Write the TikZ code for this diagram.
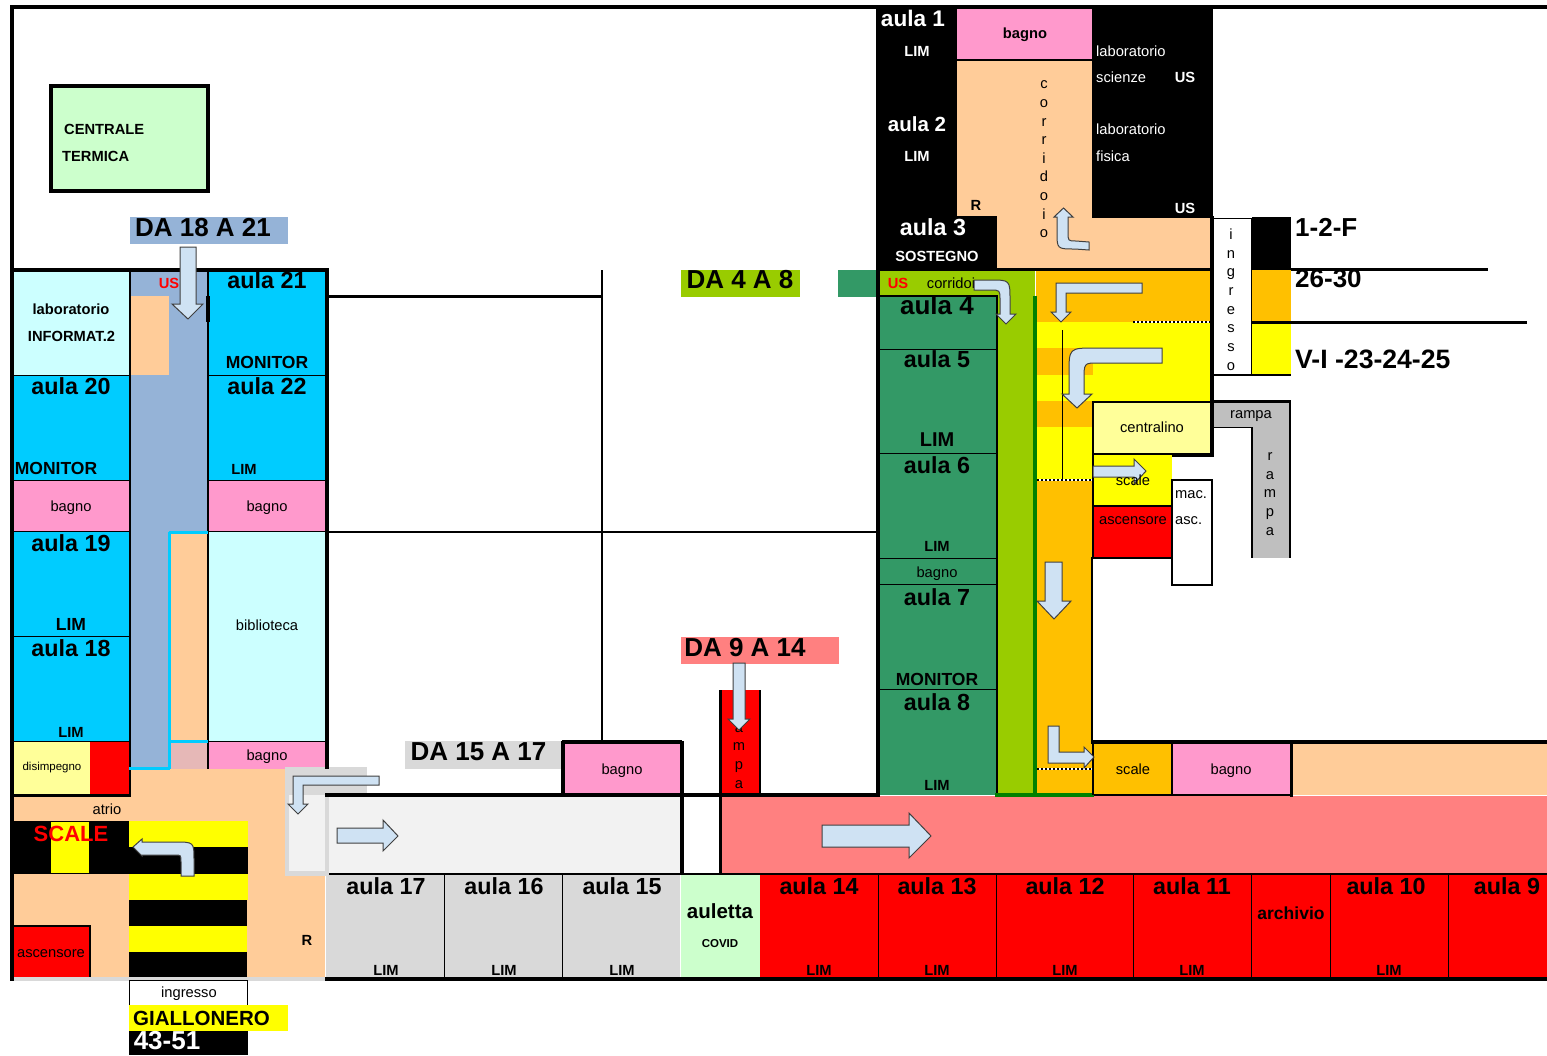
\documentclass[tikz,border=0pt]{standalone}
\usepackage{fontspec}
\usepackage{tikz}
\setmainfont{Liberation Sans}
\definecolor{pesca}{HTML}{FFCC99}
\definecolor{rosa}{HTML}{FF99CC}
\definecolor{azzurro}{HTML}{00CCFF}
\definecolor{celeste}{HTML}{CCFFFF}
\definecolor{carta}{HTML}{95B3D7}
\definecolor{verdino}{HTML}{CCFFCC}
\definecolor{prato}{HTML}{99CC00}
\definecolor{bosco}{HTML}{339966}
\definecolor{scuro}{HTML}{008000}
\definecolor{arancio}{HTML}{FFC000}
\definecolor{paglia}{HTML}{FFFF99}
\definecolor{salmone}{HTML}{FF8080}
\definecolor{grigio}{HTML}{D9D9D9}
\definecolor{grigino}{HTML}{F2F2F2}
\definecolor{rampino}{HTML}{BFBFBF}
\definecolor{rosato}{HTML}{E6B8B7}
\definecolor{freccia}{HTML}{CFE2F3}
\definecolor{giallo}{HTML}{FFFF00}
\definecolor{rosso}{HTML}{FF0000}
\tikzset{
  aula/.style={font=\bfseries\fontsize{23.3}{25}\selectfont,inner sep=0pt,yshift=1pt},
  titolo/.style={font=\bfseries\fontsize{26}{28}\selectfont,inner sep=0pt},
  medio/.style={font=\bfseries\fontsize{17.5}{19}\selectfont,inner sep=0pt},
  lim/.style={font=\bfseries\fontsize{14.7}{16}\selectfont,inner sep=0pt,yshift=-1pt},
  testo/.style={font=\fontsize{14.7}{16}\selectfont,inner sep=0pt},
  verticale/.style={font=\fontsize{14.7}{18.7}\selectfont,inner sep=0pt,align=center},
  muro/.style={line width=3.5pt},
  linea/.style={line width=1.8pt},
  frecciona/.style={fill=freccia,draw=black!75,line width=1pt,line join=miter},
  puntini/.style={line width=2pt,dash pattern=on 2pt off 2pt}
}
\begin{document}
\begin{tikzpicture}[x=1pt,y=-1pt]
        \useasboundingbox (0,0) rectangle (1547,1055);
        % centrale termica
        \filldraw[fill=verdino,muro] (51,86) rectangle (208,191);
        \fill[carta] (130,217) rectangle (288,244);
        % blocco sinistro
        \fill[celeste] (14,271) rectangle (130,375);
        \fill[carta] (130,271) rectangle (208,769);
        \fill[pesca] (131,296) rectangle (169,375);
        \fill[azzurro] (208,271) rectangle (326,480);
        \fill[azzurro] (14,375) rectangle (130,480);
        \fill[rosa] (14,480) rectangle (130,532);
        \fill[rosa] (208,480) rectangle (326,532);
        \fill[azzurro] (14,532) rectangle (130,742);
        \fill[celeste] (208,532) rectangle (326,742);
        \fill[pesca] (170,533) rectangle (208,742);
        \fill[rosato] (170,742) rectangle (208,769);
        \fill[rosa] (208,742) rectangle (326,769);
        \fill[paglia] (14,742) rectangle (90,795);
        \fill[rosso] (90,742) rectangle (130,795);
        % atrio
        \fill[pesca] (130,769) rectangle (325,977);
        \fill[pesca] (14,795) rectangle (130,977);
        \fill[black] (14,821) rectangle (129,874);
        \fill[giallo] (51,822) rectangle (89,873);
        \fill[giallo] (129,821) rectangle (248,847);
        \fill[black] (129,847) rectangle (248,874);
        \fill[giallo] (129,874) rectangle (248,900);
        \fill[black] (129,900) rectangle (247,926);
        \fill[giallo] (129,926) rectangle (247,952);
        \fill[black] (129,952) rectangle (247,977);
        \fill[rosso] (14,926) rectangle (90,977);
        \draw[line width=2pt] (13,926) -- (90,926) -- (90,977);
        \fill[grigio] (14,977) rectangle (325,981);
        \filldraw[fill=white,draw=black,line width=1pt] (129.5,980) rectangle (247.5,1005);
        \fill[giallo] (129,1005) rectangle (288,1031);
        \fill[black] (129,1031) rectangle (248,1055);
        % corridoio e aule in basso
        \fill[grigio] (285,767) rectangle (367,795);
        \fill[grigio] (285,795) rectangle (329,876);
        \fill[grigino] (289,795) rectangle (325,871);
        \fill[grigino] (329,797) rectangle (680,873);
        \fill[grigio] (405,741) rectangle (563,769);
        \fill[rosa] (564,742) rectangle (680,795);
        \fill[salmone] (722,796) rectangle (1547,873);
        \fill[salmone] (681,637) rectangle (839,664);
        \fill[rosso] (720,690) rectangle (760,795);
        \fill[grigio] (326,874) rectangle (680,977);
        \fill[verdino] (681,874) rectangle (760,977);
        \fill[rosso] (760,874) rectangle (1547,977);
        % blocco in alto
        \fill[black] (876,6) rectangle (1213,216);
        \fill[rosa] (957,9) rectangle (1092,59);
        \fill[pesca] (957,61) rectangle (1092,216);
        \fill[black] (876,216) rectangle (997,268);
        \fill[pesca] (997,216) rectangle (1092,268);
        \fill[black] (1092,216) rectangle (1213,218);
        \fill[pesca] (1092,218) rectangle (1210,268);
        % blocco destro
        \fill[bosco] (838,270) rectangle (876,297);
        \fill[prato] (681,270) rectangle (800,297);
        \fill[prato] (880,271) rectangle (1035,296);
        \fill[prato] (996,296) rectangle (1035,795);
        \fill[bosco] (879,296) rectangle (996,795);
        \fill[arancio] (1036,271) rectangle (1211,322);
        \fill[giallo] (1036,322) rectangle (1211,402);
        \fill[giallo] (1036,402) rectangle (1092,480);
        \fill[arancio] (1036,348) rectangle (1093,375);
        \fill[arancio] (1036,401) rectangle (1092,427);
        \fill[arancio] (1036,480) rectangle (1092,795);
        \fill[paglia] (1093,402) rectangle (1211,453);
        \fill[giallo] (1094,455) rectangle (1172,505);
        \fill[rosso] (1094,507) rectangle (1172,558);
        \filldraw[fill=white,draw=black,linea] (1172,480) rectangle (1212,585);
        \fill[rampino] (1214,402) rectangle (1290,427);
        \fill[rampino] (1251,427) rectangle (1290,558);
        \fill[arancio] (1094,743) rectangle (1172,794);
        \fill[rosa] (1173,743) rectangle (1290,794);
        \fill[pesca] (1292,743) rectangle (1547,795);
        % ingresso e legenda
        \fill[black] (1252,217) rectangle (1291,270);
        \fill[arancio] (1252,270) rectangle (1291,321);
        \fill[giallo] (1252,324) rectangle (1291,374);
        % muri
        \draw[muro,line width=4pt] (10,7) -- (1547,7);
        \draw[muro,line width=4pt] (12,5) -- (12,981);
        \draw[muro,line width=4pt] (325,979) -- (1547,979);
        \draw[muro] (12,270) -- (329,270);
        \draw[muro] (327,270) -- (327,769);
        \draw[linea] (130,271) -- (130,795);
        \draw[linea] (208,271) -- (208,769);
        \draw[muro] (208,296) -- (208,322);
        \draw[linea] (14,375.5) -- (130,375.5);
        \draw[linea] (208,375.5) -- (326,375.5);
        \draw[linea] (14,480.5) -- (130,480.5);
        \draw[linea] (208,480.5) -- (326,480.5);
        \draw[linea] (14,531.5) -- (130,531.5);
        \draw[linea] (208,531.5) -- (326,531.5);
        \draw[line width=2.5pt] (329,532) -- (878,532);
        \draw[linea] (14,636.5) -- (130,636.5);
        \draw[linea] (14,741.5) -- (130,741.5);
        \draw[linea] (208,741.5) -- (326,741.5);
        \draw[line width=3pt] (12,795) -- (131,795);
        \draw[azzurro,line width=3pt] (169,532) -- (208,532);
        \draw[azzurro,line width=3pt] (169,532) -- (169,769);
        \draw[azzurro,line width=3pt] (170,741) -- (208,741);
        \draw[azzurro,line width=3pt] (129,768) -- (170,768);
        \draw[line width=3pt] (329,296.5) -- (602,296.5);
        \draw[line width=2pt] (602,270) -- (602,741);
        \draw[muro,line width=4pt] (325,795) -- (682,795);
        \draw[muro,line width=4pt] (562,742) -- (682,742);
        \draw[muro] (563,741) -- (563,797);
        \draw[muro,line width=4pt] (682,741) -- (682,875);
        \draw[muro] (720.5,793) -- (720.5,875);
        \draw[line width=3pt] (720.5,690) -- (720.5,795);
        \draw[line width=2pt] (760,690) -- (760,795);
        \draw[muro,line width=4pt] (680,795) -- (880,795);
        \draw[line width=2pt] (329,873.5) -- (1547,873.5);
        \draw[line width=1pt] (444.5,874) -- (444.5,977);
        \draw[line width=1pt] (562.5,874) -- (562.5,977);
        \draw[line width=1pt] (878.5,874) -- (878.5,977);
        \draw[line width=1pt] (996.5,874) -- (996.5,977);
        \draw[line width=1pt] (1133,874) -- (1133,977);
        \draw[line width=1pt] (1251,874) -- (1251,977);
        \draw[line width=1pt] (1330,874) -- (1330,977);
        \draw[line width=1pt] (1448,874) -- (1448,977);
        \draw[muro] (878,270) -- (878,797);
        \draw[muro] (876,269.5) -- (1213,269.5);
        \draw[line width=2pt] (879,296) -- (996.5,296) -- (996.5,795);
        \draw[linea] (879,349.5) -- (996,349.5);
        \draw[linea] (879,453.5) -- (996,453.5);
        \draw[linea] (879,558.5) -- (996,558.5);
        \draw[linea] (879,584.5) -- (996,584.5);
        \draw[linea] (879,689.5) -- (996,689.5);
        \draw[scuro,line width=3.5pt] (1035,296) -- (1035,795);
        \draw[scuro,line width=3.5pt] (995,795) -- (1094,795);
        \draw[muro] (1212,216) -- (1212,456);
        \draw[muro] (1172,455) -- (1214,455);
        \draw[line width=2.5pt] (1093,402) -- (1212,402);
        \draw[line width=2.5pt] (1093,401) -- (1093,558);
        \draw[linea] (1093,454) -- (1172,454);
        \draw[line width=2.5pt] (1093,506) -- (1172,506);
        \draw[line width=2pt] (1092,558) -- (1172,558);
        \draw[line width=2.5pt] (1092,557) -- (1092,741);
        \draw[linea] (1093,741) -- (1093,795);
        \draw[muro,line width=4pt] (1091,741.5) -- (1547,741.5);
        \draw[linea] (1094,795) -- (1292,795);
        \draw[linea] (1172,742) -- (1172,795);
        \draw[line width=3pt] (1291,742) -- (1291,797);
        \draw[line width=1pt] (1062,330) -- (1062,480);
        % ingresso
        \draw[line width=1pt] (1214,218) -- (1251.5,218) -- (1251.5,375);
        \draw[line width=3pt] (1291,269.5) -- (1488,269.5);
        \draw[line width=2.5pt] (1252,322.5) -- (1527,322.5);
        \draw[line width=2pt] (1212,375) -- (1291,375);
        \draw[line width=2.5pt] (1212,401.5) -- (1291,401.5);
        \draw[linea] (1212,427.5) -- (1252,427.5) -- (1252,558);
        \draw[linea] (1290,401) -- (1290,558);
        % linee tratteggiate
        \draw[white,line width=2pt] (1133,322) -- (1211,322);
        \draw[puntini] (1133,322) -- (1211,322);
        \draw[white,line width=2pt] (1037,480) -- (1092,480);
        \draw[puntini] (1037,480) -- (1092,480);
        \draw[white,line width=2pt] (1037,769) -- (1092,769);
        \draw[puntini] (1037,769) -- (1092,769);
        % testi sotto le frecce
        \node[lim,red] (us18) at (169,282) {US};
        \node[testo] (corridoi) at (951,283) {corridoi};
        \node[verticale] (rampa9) at (739,747) {r\\a\\m\\p\\a};
        % frecce
        \filldraw[frecciona] (180,247) -- (196,247) -- (196,304) -- (203,304) -- (188,319) -- (172,304) -- (180,304) -- cycle;
        \filldraw[frecciona] (733,663) -- (745,663) -- (745,719) -- (750,719) -- (739,730) -- (728,719) -- (733,719) -- cycle;
        \filldraw[frecciona] (1089,250) -- (1075,249) .. controls (1057,249) .. (1057,232) -- (1057,217) -- (1054,217) -- (1063.5,208) -- (1073,217) -- (1068,217) -- (1068,232) .. controls (1068,241) .. (1076,241) -- (1089,242) -- cycle;
        \filldraw[frecciona] (974,280) -- (990,280) .. controls (1010,280) .. (1010,300) -- (1010,314) -- (1016,314) -- (1006,324) -- (996,314) -- (1000,314) -- (1000,300) .. controls (1000,290) .. (990,290) -- (974,290) -- cycle;
        \filldraw[frecciona] (1142,283) -- (1056,283) -- (1056,312) -- (1051,312) -- (1061,322) -- (1071,312) -- (1066,312) -- (1066,293) -- (1142,293) -- cycle;
        \filldraw[frecciona] (1162,348) -- (1095,348) .. controls (1069,348) .. (1069,374) -- (1069,394) -- (1062,394) -- (1077,408) -- (1092,394) -- (1084,394) -- (1084,380) .. controls (1084,363) .. (1098,363) -- (1162,363) -- cycle;
        \filldraw[frecciona] (1093,466) -- (1134,466) -- (1134,459) -- (1146,471) -- (1134,484) -- (1134,477) -- (1093,477) -- cycle;
        \filldraw[frecciona] (1045,562) -- (1062,562) -- (1062,601) -- (1071,601) -- (1054,619) -- (1037,601) -- (1045,601) -- cycle;
        \filldraw[frecciona] (1048,726) -- (1059,726) -- (1059,752) -- (1084,752) -- (1084,747) -- (1094,757) -- (1084,768) -- (1084,763) -- (1048,763) -- cycle;
        \filldraw[frecciona] (822,825) -- (909,825) -- (909,813) -- (931,836) -- (909,858) -- (909,847) -- (822,847) -- cycle;
        \filldraw[frecciona] (337,828) -- (383,828) -- (383,820) -- (398,836) -- (383,851) -- (383,843) -- (337,843) -- cycle;
        \filldraw[frecciona] (379,776) -- (293,776) -- (293,804) -- (288,804) -- (298,814) -- (308,804) -- (303,804) -- (303,785) -- (379,785) -- cycle;
        \filldraw[frecciona] (133,847) -- (142,839) -- (142,842) -- (175,842) .. controls (194,842) .. (194,860) -- (194,876) -- (181,876) -- (181,862) .. controls (181,855) .. (175,855) -- (142,855) -- (142,856) -- cycle;
        % testi
        \node[lim,anchor=west] (centrale) at (64,128) {CENTRALE};
        \node[lim,anchor=west] (termica) at (62,155) {TERMICA};
        \node[titolo] (da18) at (203,228) {DA 18 A 21};
        \node[titolo] (da4) at (740,279.5) {DA 4 A 8};
        \node[titolo] (da9) at (745,648) {DA 9 A 14};
        \node[titolo] (da15) at (478.5,752) {DA 15 A 17};
        \node[lim] (lab) at (71,308) {laboratorio};
        \node[lim] (inf) at (71.5,335) {INFORMAT.2};
        \node[aula] (a21) at (267,281) {aula 21};
        \node[medio] (mon21) at (267,362) {MONITOR};
        \node[aula] (a22) at (267,387) {aula 22};
        \node[lim] (lim22) at (244,468) {LIM};
        \node[aula] (a20) at (71,387) {aula 20};
        \node[medio] (mon20) at (56,468) {MONITOR};
        \node[testo] (bagnosx) at (71,508) {bagno};
        \node[testo] (bagnodx) at (267,508) {bagno};
        \node[aula] (a19) at (71,544) {aula 19};
        \node[medio] (lim19) at (71,624) {LIM};
        \node[aula] (a18) at (71,649) {aula 18};
        \node[lim] (lim18) at (71,731) {LIM};
        \node[testo] (bib) at (267,625) {biblioteca};
        \node[testo] (bagnobib) at (267,757) {bagno};
        \node[testo,font=\fontsize{11.5}{13}\selectfont] (dis) at (52,768) {disimpegno};
        \node[testo] (atrio) at (107,809) {atrio};
        \node[aula,red,font=\bfseries\fontsize{22}{24}\selectfont] (scale1) at (71,835) {SCALE};
        \node[testo] (asc1) at (51,954) {ascensore};
        \node[lim] (r1) at (307,939) {R};
        \node[testo] (ingresso) at (189,994) {ingresso};
        \node[aula,font=\bfseries\fontsize{20.5}{22}\selectfont,anchor=west] (giallonero) at (133,1019) {GIALLONERO};
        \node[titolo,white] (n43) at (167,1041) {43-51};
        \node[testo] (bagno15) at (622,771) {bagno};
        \node[aula] (a17) at (386,887) {aula 17};
        \node[aula] (a16) at (504,887) {aula 16};
        \node[aula] (a15) at (622,887) {aula 15};
        \node[aula,font=\bfseries\fontsize{20.5}{22}\selectfont] (auletta) at (720,912) {auletta};
        \node[lim,font=\bfseries\fontsize{11.5}{13}\selectfont] (covid) at (720,943) {COVID};
        \node[aula] (a14) at (819,887) {aula 14};
        \node[aula] (a13) at (937,887) {aula 13};
        \node[aula] (a12) at (1065,887) {aula 12};
        \node[aula] (a11) at (1192,887) {aula 11};
        \node[medio] (arch) at (1291,913) {archivio};
        \node[aula] (a10) at (1386,887) {aula 10};
        \node[aula] (a9) at (1507,887) {aula 9};
        \node[lim] (lim17) at (386,969) {LIM};
        \node[lim] (lim16) at (504,969) {LIM};
        \node[lim] (lim15) at (622,969) {LIM};
        \node[lim] (lim14) at (819,969) {LIM};
        \node[lim] (lim13) at (937,969) {LIM};
        \node[lim] (lim12) at (1065,969) {LIM};
        \node[lim] (lim11) at (1192,969) {LIM};
        \node[lim] (lim10) at (1389,969) {LIM};
        \node[aula,white,font=\bfseries\fontsize{22.6}{24}\selectfont] (a1) at (913,19) {aula 1};
        \node[lim,white] (lim1) at (917,50) {LIM};
        \node[aula,white,font=\bfseries\fontsize{20.5}{22}\selectfont] (a2) at (917,125) {aula 2};
        \node[lim,white] (lim2) at (917,155) {LIM};
        \node[aula,white] (a3) at (933,228) {aula 3};
        \node[lim,white] (sost) at (937,255) {SOSTEGNO};
        \node[lim] (bagnotop) at (1025,34) {bagno};
        \node[verticale,font=\fontsize{14.7}{18.6}\selectfont] (corr) at (1044,159.5) {c\\o\\r\\r\\i\\d\\o\\i\\o};
        \node[lim] (r2) at (976,204) {R};
        \node[testo,white,anchor=west] (labs) at (1096,51) {laboratorio};
        \node[testo,white,anchor=west] (sci) at (1096,77) {scienze};
        \node[lim,white] (us1) at (1185,76) {US};
        \node[testo,white,anchor=west] (labf) at (1096,129) {laboratorio};
        \node[testo,white,anchor=west] (fis) at (1096,156) {fisica};
        \node[lim,white] (us2) at (1185,207) {US};
        \node[lim,red] (us4) at (898,282) {US};
        \node[aula,font=\bfseries\fontsize{26}{28}\selectfont] (a4) at (937,306) {aula 4};
        \node[aula] (a5) at (937,360) {aula 5};
        \node[medio,font=\bfseries\fontsize{20}{22}\selectfont] (lim5) at (937,440) {LIM};
        \node[aula] (a6) at (937,466) {aula 6};
        \node[lim] (lim6) at (937,545) {LIM};
        \node[testo] (bagno6) at (937,574) {bagno};
        \node[aula] (a7) at (937,598) {aula 7};
        \node[medio] (mon7) at (937,679) {MONITOR};
        \node[aula] (a8) at (937,703) {aula 8};
        \node[lim] (lim8) at (937,784) {LIM};
        \node[testo] (cent) at (1152,427) {centralino};
        \node[testo] (scale2) at (1133,480) {scale};
        \node[testo] (asc2) at (1133,521) {ascensore};
        \node[testo,anchor=west] (mac) at (1175,495) {mac.};
        \node[testo,anchor=west] (asc3) at (1175,521) {asc.};
        \node[testo] (rampa1) at (1251,416) {rampa};
        \node[verticale] (rampa2) at (1270,494) {r\\a\\m\\p\\a};
        \node[verticale] (ingr) at (1231,299.5) {i\\n\\g\\r\\e\\s\\s\\o};
        \node[titolo,anchor=west] (f1) at (1295,227) {1-2-F};
        \node[titolo,anchor=west] (f2) at (1295,279) {26-30};
        \node[titolo,font=\bfseries\fontsize{26.6}{28}\selectfont,anchor=west] (f3) at (1295,359) {V-I -23-24-25};
        \node[testo] (scale3) at (1133,769) {scale};
        \node[testo] (bagno3) at (1231,771) {bagno};
      \end{tikzpicture}
\end{document}
